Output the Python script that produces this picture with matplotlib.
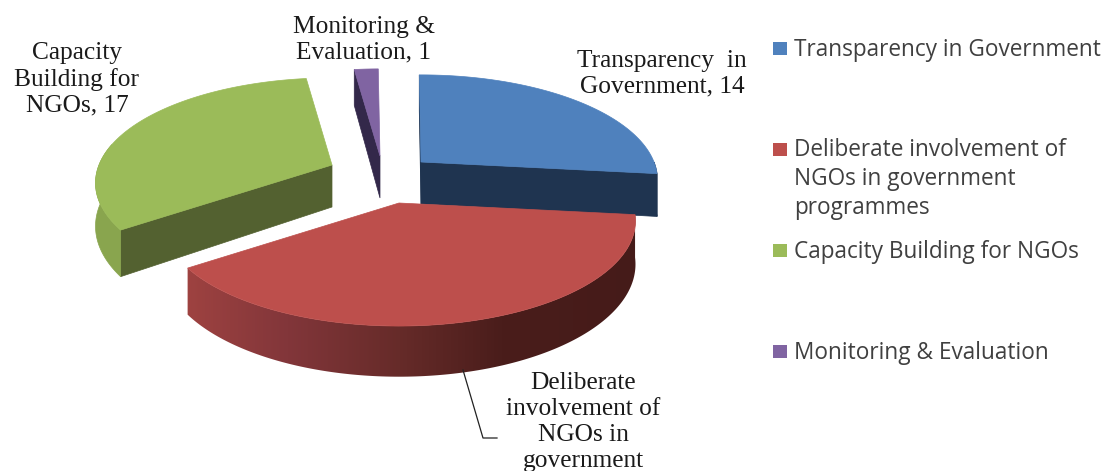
"""Exploded 3D-look pie of NGO themes, drawn by hand since matplotlib has no 3D pie."""

import matplotlib

matplotlib.use("Agg")
import matplotlib.pyplot as plt
import numpy as np
from matplotlib.patches import Polygon

categories = [
    "Transparency in Government",
    "Deliberate involvement of\nNGOs in government\nprogrammes",
    "Capacity Building for NGOs",
    "Monitoring & Evaluation",
]
values = [14, 20, 17, 1]
data_labels = [
    "Transparency  in\nGovernment, 14",
    "Deliberate\ninvolvement of\nNGOs in\ngovernment",
    "Capacity\nBuilding for\nNGOs, 17",
    "Monitoring &\nEvaluation, 1",
]

top_colors = ["#4f81bd", "#bd4f4c", "#9bbb59", "#8064a2"]
face_colors = ["#1f3450", "#7a2f2d", "#536130", "#33284a"]
rim_colors = ["#1f3450", None, "#89a54e", "#4a3a66"]
red_rim_x = [185, 290, 400, 500, 640]
red_rim_hex = ["#a04341", "#82363a", "#662b29", "#4a1d1b", "#451b19"]

# apex of each slice in pixels, pushed out from the middle of the pie
centers = [(421, 162), (399, 203), (332, 165), (380, 156)]
label_pos = [(662, 74), (583, 422), (77, 79), (364, 40)]
legend_y = [48, 149, 250, 351]
legend_text_y = [50, 179, 252, 353]

RX = 233.0
RY = 102.0
PERSP = 0.171
DEPTH = 42.0
START_DEG = -0.5


def project(center, theta, drop=0.0):
    """theta in degrees clockwise from the back of the pie."""
    t = np.radians(theta)
    u, v = np.sin(t), np.cos(t)
    s = 1.0 / (1.0 + PERSP * v)
    return center[0] + RX * u * s, center[1] - RY * v * s + DEPTH * s * drop


def draw_red_rim(ax, c, a0, a1):
    arc = np.linspace(a0, a1, 160)
    xt, yt = project(c, arc)
    xb, yb = project(c, arc, 1)
    pts = np.column_stack([np.r_[xt, xb[::-1]], np.r_[yt, yb[::-1]]])
    clip = Polygon(pts, closed=True, transform=ax.transData, facecolor="none", edgecolor="none")
    ax.add_patch(clip)

    rgb = np.array([matplotlib.colors.to_rgb(h) for h in red_rim_hex])
    xs = np.arange(red_rim_x[0], red_rim_x[-1] + 1)
    row = np.column_stack([np.interp(xs, red_rim_x, rgb[:, k]) for k in range(3)])
    im = ax.imshow(row[np.newaxis, :, :], extent=(xs[0] - 5, xs[-1] + 5, 400, 200),
                   aspect="auto", interpolation="bilinear", zorder=1)
    im.set_clip_path(clip)


def draw_slice(ax, i, a0, a1):
    c = centers[i]
    apex_low = (c[0], c[1] + DEPTH)
    # cut faces first, the top surface goes over them
    if i == 0:
        edges = [a0, a1]
    elif i == 2:
        edges = [a0]
    elif i == 3:
        edges = [a0]
    else:
        edges = []
    for edge in edges:
        p = project(c, edge)
        q = project(c, edge, 1)
        ax.fill([c[0], p[0], q[0], apex_low[0]], [c[1], p[1], q[1], apex_low[1]],
                color=face_colors[i], linewidth=0.5, zorder=1)
    # outer rim, only the part that faces the viewer
    lo, hi = max(a0, 90.0), min(a1, 282.0)
    if hi > lo:
        if i == 1:
            draw_red_rim(ax, c, lo, hi)
        else:
            arc = np.linspace(lo, hi, 80)
            xt, yt = project(c, arc)
            xb, yb = project(c, arc, 1)
            ax.fill(np.r_[xt, xb[::-1]], np.r_[yt, yb[::-1]], color=rim_colors[i],
                    linewidth=0.5, zorder=1)
    arc = np.linspace(a0, a1, 120)
    xs, ys = project(c, arc)
    ax.fill(np.r_[c[0], xs], np.r_[c[1], ys], color=top_colors[i], linewidth=0.5, zorder=2)


def main():
    fig = plt.figure(figsize=(11.05, 4.71), dpi=100)
    ax = fig.add_axes([0, 0, 1, 1])

    angles = START_DEG + np.r_[0, np.cumsum(values)] / np.sum(values) * 360.0
    for i in [2, 3, 0]:
        draw_slice(ax, i, angles[i], angles[i + 1])
    # red needs to sit over the blue face
    ax.set_zorder(1)
    red_ax = fig.add_axes([0, 0, 1, 1], zorder=2)
    draw_slice(red_ax, 1, angles[1], angles[2])

    for a in (ax, red_ax):
        a.set_xlim(0, 1105)
        a.set_ylim(471, 0)
        a.axis("off")

    for (x, y), text in zip(label_pos, data_labels):
        red_ax.text(x, y, text, family="Liberation Serif", fontsize=18.3, color="#1a1a1a",
                    ha="center", va="center", linespacing=1.22, zorder=5)

    red_ax.plot([463, 483, 497], [370, 438, 438], color="#222222", linewidth=0.9, zorder=4)

    for y, ty, name, color in zip(legend_y, legend_text_y, categories, top_colors):
        red_ax.fill([773, 787, 787, 773], [y - 6.5, y - 6.5, y + 6.5, y + 6.5],
                    color=color, linewidth=0)
        red_ax.text(794, ty, name, family="Open Sans", fontsize=16.3, color="#404040",
                    ha="left", va="center", linespacing=1.27)

    fig.savefig("out.png", dpi=100)


if __name__ == "__main__":
    main()
